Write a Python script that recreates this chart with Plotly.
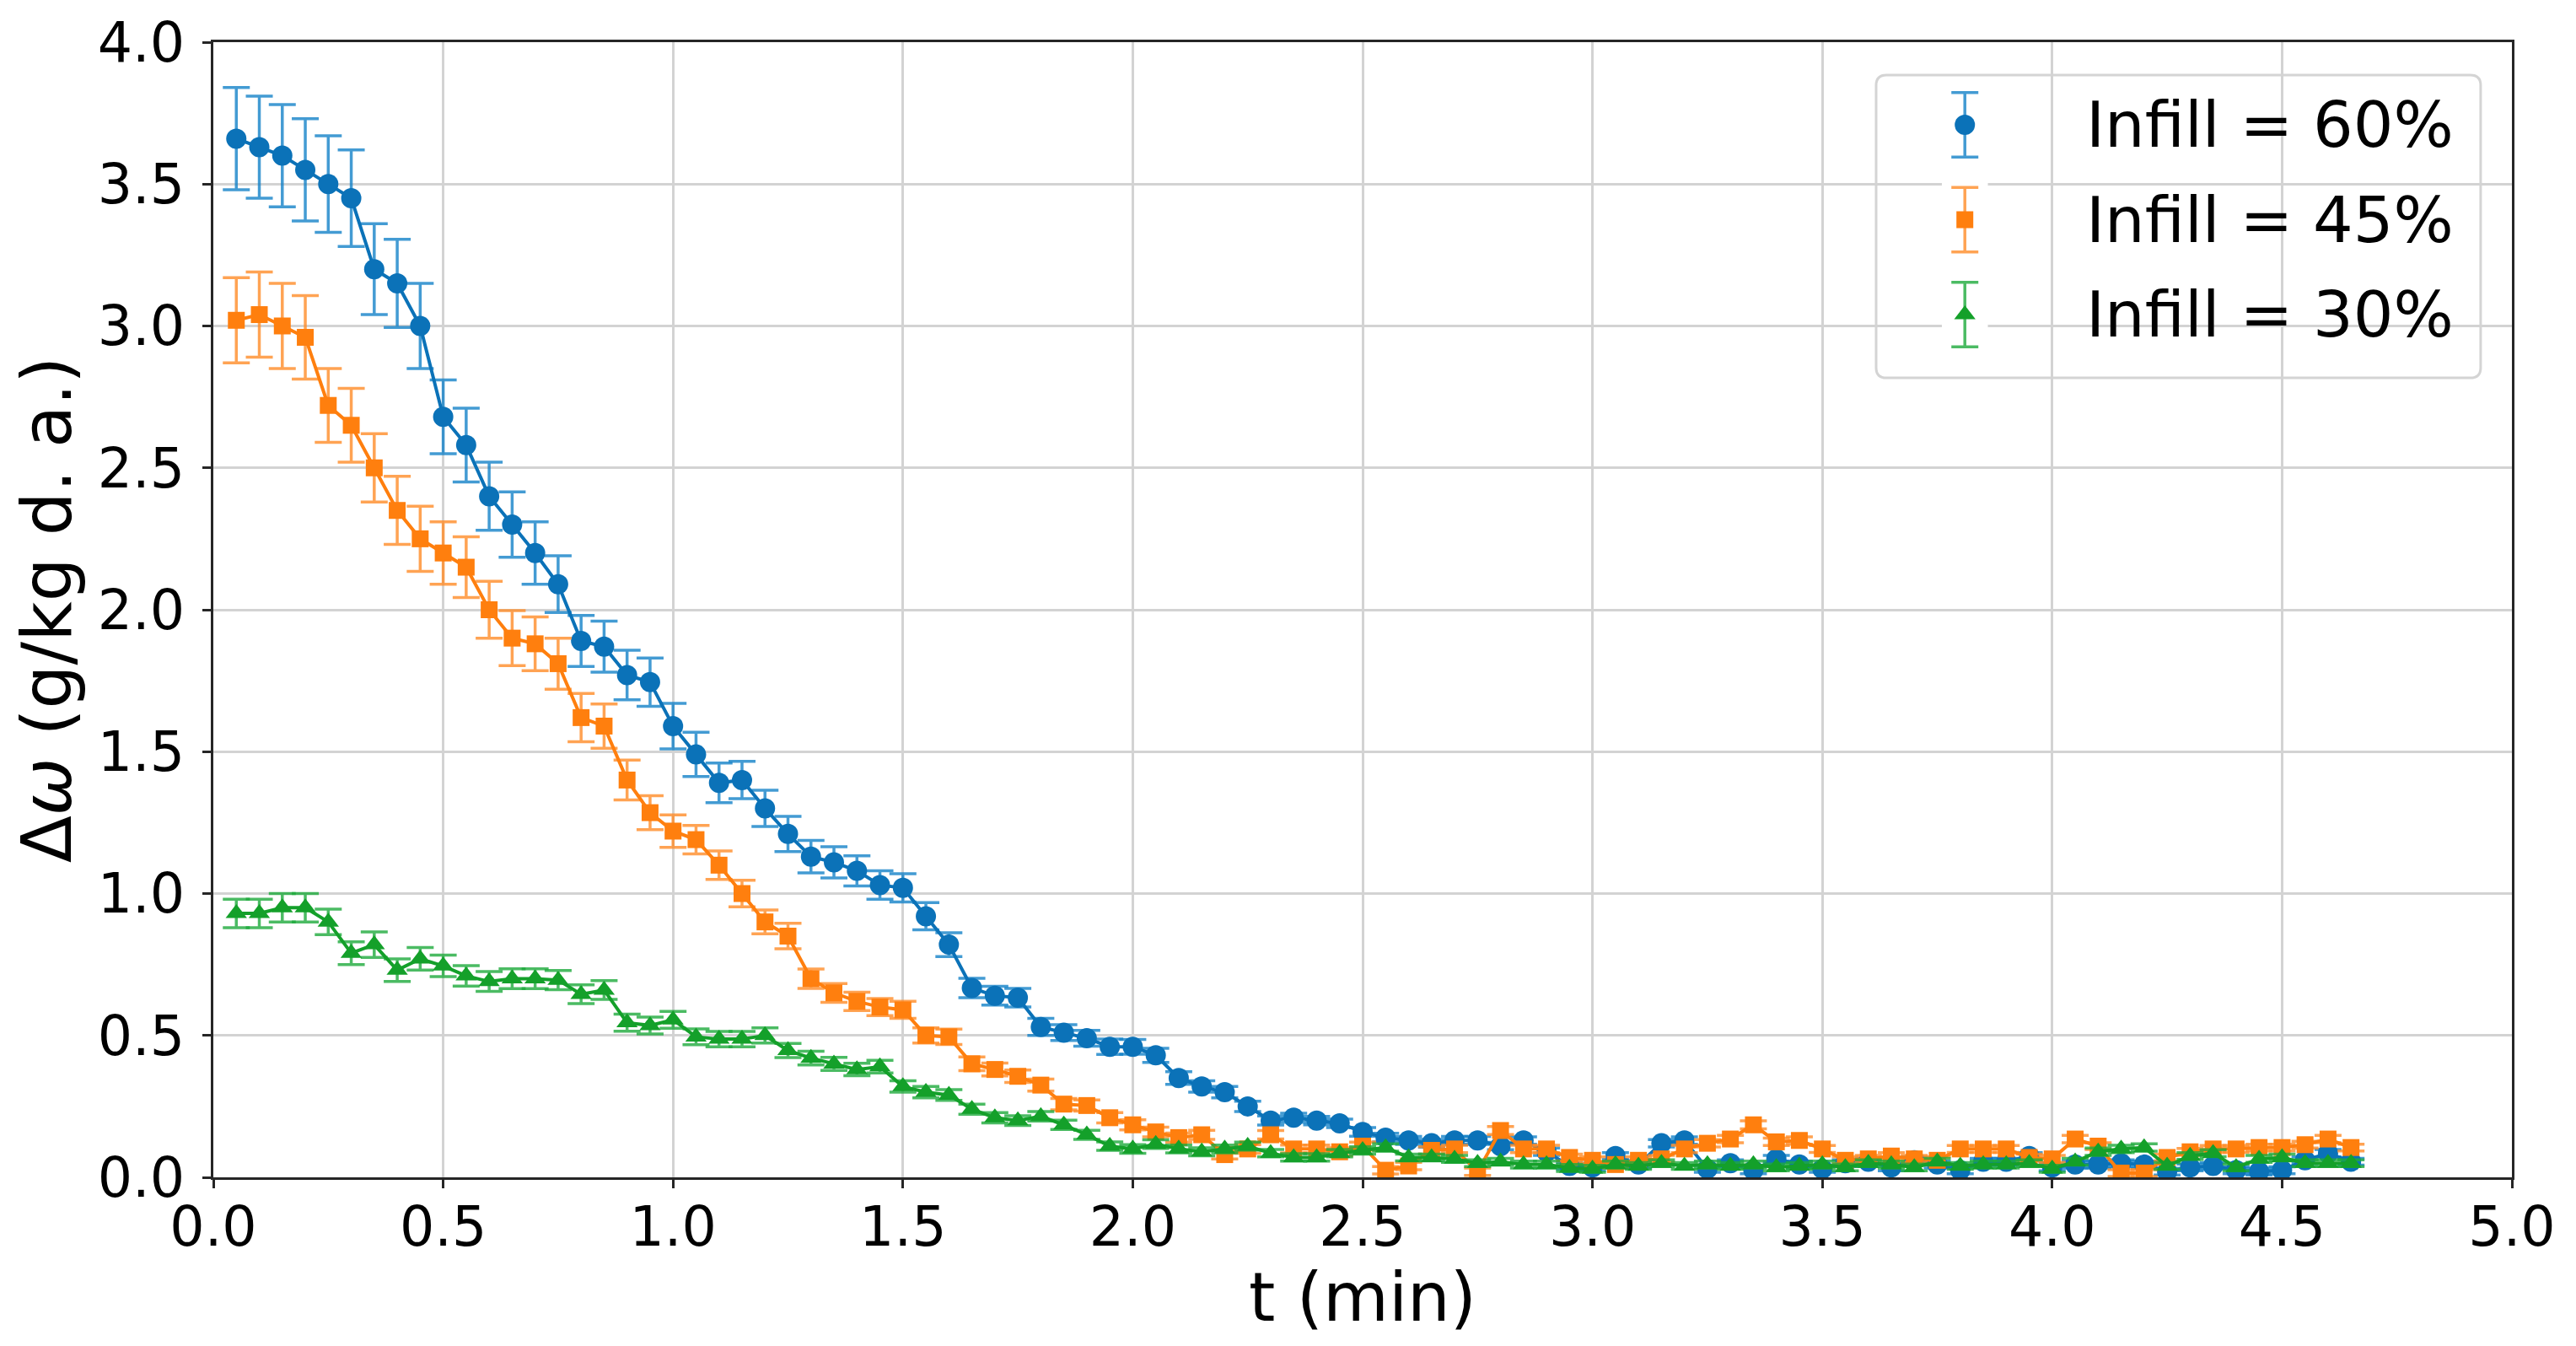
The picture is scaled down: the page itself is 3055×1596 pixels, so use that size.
import plotly.graph_objects as go

# time axis (min)
t = [0.05, 0.10, 0.15, 0.20, 0.25, 0.30, 0.35, 0.40, 0.45, 0.50,
     0.55, 0.60, 0.65, 0.70, 0.75, 0.80, 0.85, 0.90, 0.95, 1.00,
     1.05, 1.10, 1.15, 1.20, 1.25, 1.30, 1.35, 1.40, 1.45, 1.50,
     1.55, 1.60, 1.65, 1.70, 1.75, 1.80, 1.85, 1.90, 1.95, 2.00,
     2.05, 2.10, 2.15, 2.20, 2.25, 2.30, 2.35, 2.40, 2.45, 2.50,
     2.55, 2.60, 2.65, 2.70, 2.75, 2.80, 2.85, 2.90, 2.95, 3.00,
     3.05, 3.10, 3.15, 3.20, 3.25, 3.30, 3.35, 3.40, 3.45, 3.50,
     3.55, 3.60, 3.65, 3.70, 3.75, 3.80, 3.85, 3.90, 3.95, 4.00,
     4.05, 4.10, 4.15, 4.20, 4.25, 4.30, 4.35, 4.40, 4.45, 4.50,
     4.55, 4.60, 4.65]

# Infill = 60%
dw_60 = [3.66, 3.63, 3.60, 3.55, 3.50, 3.45, 3.20, 3.15, 3.00, 2.68,
         2.58, 2.40, 2.30, 2.20, 2.09, 1.89, 1.87, 1.77, 1.745, 1.59,
         1.49, 1.39, 1.40, 1.30, 1.21, 1.13, 1.11, 1.08, 1.03, 1.02,
         0.92, 0.82, 0.667, 0.64, 0.633, 0.53, 0.51, 0.49, 0.46, 0.46,
         0.43, 0.35, 0.32, 0.30, 0.25, 0.20, 0.21, 0.20, 0.19, 0.16,
         0.14, 0.13, 0.12, 0.13, 0.13, 0.11, 0.13, 0.09, 0.04, 0.035,
         0.075, 0.045, 0.12, 0.13, 0.03, 0.05, 0.025, 0.065, 0.045, 0.03,
         0.05, 0.055, 0.035, 0.06, 0.045, 0.025, 0.055, 0.055, 0.075, 0.035,
         0.045, 0.045, 0.05, 0.045, 0.02, 0.035, 0.04, 0.025, 0.02, 0.025,
         0.06, 0.085, 0.055]
err_60 = [0.18, 0.18, 0.18, 0.18, 0.17, 0.17, 0.16, 0.155, 0.15, 0.13,
          0.13, 0.12, 0.115, 0.11, 0.10, 0.09, 0.09, 0.087, 0.085, 0.08,
          0.078, 0.07, 0.066, 0.064, 0.062, 0.057, 0.055, 0.053, 0.05, 0.05,
          0.048, 0.042, 0.034, 0.033, 0.033, 0.03, 0.028, 0.028, 0.027, 0.026,
          0.025, 0.022, 0.02, 0.02, 0.018, 0.016, 0.016, 0.015, 0.015, 0.015,
          0.015, 0.014, 0.014, 0.014, 0.014, 0.013, 0.013, 0.013, 0.012, 0.012,
          0.012, 0.012, 0.013, 0.013, 0.012, 0.012, 0.012, 0.012, 0.012, 0.012,
          0.012, 0.012, 0.012, 0.012, 0.012, 0.012, 0.012, 0.012, 0.012, 0.012,
          0.012, 0.012, 0.012, 0.012, 0.012, 0.012, 0.012, 0.012, 0.012, 0.012,
          0.012, 0.013, 0.012]

# Infill = 45%
dw_45 = [3.02, 3.04, 3.00, 2.96, 2.72, 2.65, 2.50, 2.35, 2.25, 2.20,
         2.15, 2.00, 1.90, 1.88, 1.81, 1.62, 1.59, 1.40, 1.285, 1.22,
         1.19, 1.10, 1.00, 0.90, 0.85, 0.70, 0.65, 0.62, 0.60, 0.59,
         0.50, 0.495, 0.40, 0.38, 0.356, 0.325, 0.258, 0.253, 0.21, 0.185,
         0.16, 0.14, 0.15, 0.08, 0.10, 0.15, 0.10, 0.10, 0.09, 0.11,
         0.025, 0.04, 0.095, 0.10, 0.02, 0.165, 0.10, 0.10, 0.07, 0.06,
         0.045, 0.06, 0.065, 0.10, 0.12, 0.135, 0.185, 0.125, 0.13, 0.10,
         0.06, 0.065, 0.075, 0.065, 0.06, 0.10, 0.10, 0.10, 0.07, 0.065,
         0.135, 0.11, 0.015, 0.015, 0.07, 0.09, 0.10, 0.10, 0.105, 0.105,
         0.115, 0.135, 0.105]
err_45 = [0.15, 0.15, 0.15, 0.147, 0.13, 0.13, 0.12, 0.12, 0.115, 0.11,
          0.107, 0.10, 0.097, 0.095, 0.09, 0.085, 0.078, 0.07, 0.06, 0.057,
          0.05, 0.05, 0.047, 0.042, 0.045, 0.034, 0.033, 0.032, 0.03, 0.03,
          0.027, 0.027, 0.024, 0.023, 0.022, 0.021, 0.02, 0.02, 0.018, 0.018,
          0.017, 0.016, 0.016, 0.015, 0.015, 0.015, 0.014, 0.014, 0.014, 0.014,
          0.013, 0.013, 0.013, 0.013, 0.013, 0.014, 0.013, 0.013, 0.012, 0.012,
          0.012, 0.012, 0.012, 0.013, 0.013, 0.013, 0.014, 0.013, 0.013, 0.012,
          0.012, 0.012, 0.012, 0.012, 0.012, 0.012, 0.012, 0.012, 0.012, 0.012,
          0.013, 0.012, 0.012, 0.012, 0.012, 0.012, 0.012, 0.012, 0.012, 0.012,
          0.012, 0.013, 0.012]

# Infill = 30%
dw_30 = [0.93, 0.93, 0.95, 0.95, 0.90, 0.79, 0.82, 0.73, 0.77, 0.745,
         0.71, 0.69, 0.70, 0.70, 0.695, 0.645, 0.66, 0.545, 0.535, 0.555,
         0.495, 0.487, 0.487, 0.50, 0.447, 0.42, 0.40, 0.38, 0.39, 0.32,
         0.30, 0.29, 0.24, 0.21, 0.20, 0.215, 0.185, 0.15, 0.11, 0.10,
         0.117, 0.10, 0.09, 0.10, 0.11, 0.085, 0.07, 0.07, 0.085, 0.095,
         0.105, 0.07, 0.07, 0.065, 0.05, 0.055, 0.045, 0.045, 0.033, 0.03,
         0.045, 0.04, 0.05, 0.04, 0.045, 0.04, 0.045, 0.035, 0.04, 0.045,
         0.035, 0.05, 0.045, 0.035, 0.055, 0.04, 0.045, 0.045, 0.05, 0.03,
         0.055, 0.09, 0.10, 0.105, 0.04, 0.075, 0.085, 0.035, 0.065, 0.07,
         0.05, 0.05, 0.05]
err_30 = [0.05, 0.05, 0.05, 0.05, 0.045, 0.04, 0.045, 0.04, 0.04, 0.038,
          0.036, 0.035, 0.035, 0.035, 0.034, 0.033, 0.033, 0.03, 0.03, 0.03,
          0.028, 0.027, 0.027, 0.027, 0.025, 0.024, 0.023, 0.022, 0.022, 0.02,
          0.02, 0.019, 0.018, 0.018, 0.017, 0.017, 0.016, 0.016, 0.015, 0.015,
          0.015, 0.014, 0.014, 0.014, 0.014, 0.013, 0.013, 0.013, 0.013, 0.013,
          0.013, 0.012, 0.012, 0.012, 0.012, 0.012, 0.012, 0.012, 0.012, 0.012,
          0.012, 0.012, 0.012, 0.012, 0.012, 0.012, 0.012, 0.012, 0.012, 0.012,
          0.012, 0.012, 0.012, 0.012, 0.012, 0.012, 0.012, 0.012, 0.012, 0.012,
          0.012, 0.013, 0.013, 0.013, 0.012, 0.012, 0.012, 0.012, 0.012, 0.012,
          0.012, 0.012, 0.012]

names = ["Infill = 60%", "Infill = 45%", "Infill = 30%"]
x_ticks = [0.0, 0.5, 1.0, 1.5, 2.0, 2.5, 3.0, 3.5, 4.0, 4.5, 5.0]
y_ticks = [0.0, 0.5, 1.0, 1.5, 2.0, 2.5, 3.0, 3.5, 4.0]

series = [
    (names[0], dw_60, err_60, "#0b72b8", "rgba(20,130,200,0.8)", "circle", 24),
    (names[1], dw_45, err_45, "#ff7f0e", "rgba(255,140,40,0.8)", "square", 20),
    (names[2], dw_30, err_30, "#14a02a", "rgba(30,170,60,0.8)", "triangle-up", 22),
]

FONT = "DejaVu Sans"

fig = go.Figure()
for name, y, err, col, ecol, sym, size in series:
    fig.add_trace(go.Scatter(
        x=t, y=y, mode="lines+markers", name=name, showlegend=False,
        line=dict(color=col, width=4),
        marker=dict(color=col, symbol=sym, size=size, line=dict(width=0)),
        error_y=dict(type="data", array=err, visible=True,
                     color=ecol, thickness=3.5, width=16),
    ))

# hand-made legend (marker with vertical error bar, as in matplotlib)
n = len(series)
for i, (name, y, err, col, ecol, sym, size) in enumerate(series):
    fig.add_trace(go.Scatter(
        x=[0], y=[n - 1 - i], mode="markers", xaxis="x2", yaxis="y2",
        showlegend=False, hoverinfo="skip",
        marker=dict(color=col, symbol=sym, size=size, line=dict(width=0)),
        error_y=dict(type="constant", value=0.34, color=ecol,
                     thickness=3.5, width=16),
    ))
    fig.add_annotation(
        x=0.814, y=n - 1 - i, xref="paper", yref="y2", text=name,
        showarrow=False, xanchor="left", yanchor="middle",
        font=dict(family=FONT, size=75, color="black"),
    )

# rounded legend frame (paper coords)
x0, x1, y0, y1 = 0.7234, 0.9864, 0.7043, 0.971
rx, ry = 0.0045, 0.009
frame = (f"M {x0+rx},{y0} L {x1-rx},{y0} Q {x1},{y0} {x1},{y0+ry} "
         f"L {x1},{y1-ry} Q {x1},{y1} {x1-rx},{y1} L {x0+rx},{y1} "
         f"Q {x0},{y1} {x0},{y1-ry} L {x0},{y0+ry} Q {x0},{y0} {x0+rx},{y0} Z")
fig.add_shape(type="path", path=frame, xref="paper", yref="paper",
              fillcolor="rgba(255,255,255,0.8)",
              line=dict(color="#d4d4d4", width=3), layer="below")

axis_common = dict(
    showgrid=True, gridcolor="#d3d3d3", gridwidth=3,
    showline=True, linecolor="#262626", linewidth=3, mirror=True,
    ticks="outside", ticklen=10, tickwidth=3, tickcolor="#262626",
    tickfont=dict(family=FONT, size=65, color="black"),
    tickformat=".1f", zeroline=False,
)

fig.update_layout(
    width=3055, height=1596,
    margin=dict(l=253, r=76, t=50, b=200),
    paper_bgcolor="white", plot_bgcolor="white",
    font=dict(family=FONT, color="black"),
    xaxis=dict(range=[0, 5], tickvals=x_ticks, ticklabelstandoff=-10,
               title=dict(text="t (min)", font=dict(family=FONT, size=80),
                          standoff=14),
               **axis_common),
    yaxis=dict(range=[0, 4], tickvals=y_ticks, ticklabelstandoff=8,
               title=dict(text="Δ<i>ω</i> (g/kg d. a.)",
                          font=dict(family=FONT, size=82), standoff=4),
               **axis_common),
    xaxis2=dict(domain=[0.752, 0.772], range=[-1, 1], anchor="y2",
                visible=False, fixedrange=True),
    yaxis2=dict(domain=[0.7182, 0.969], range=[-0.5, 2.5], anchor="x2",
                visible=False, fixedrange=True),
)

fig.write_html("out.html", config={"displayModeBar": False},
               post_script="document.body.style.margin='0';")
